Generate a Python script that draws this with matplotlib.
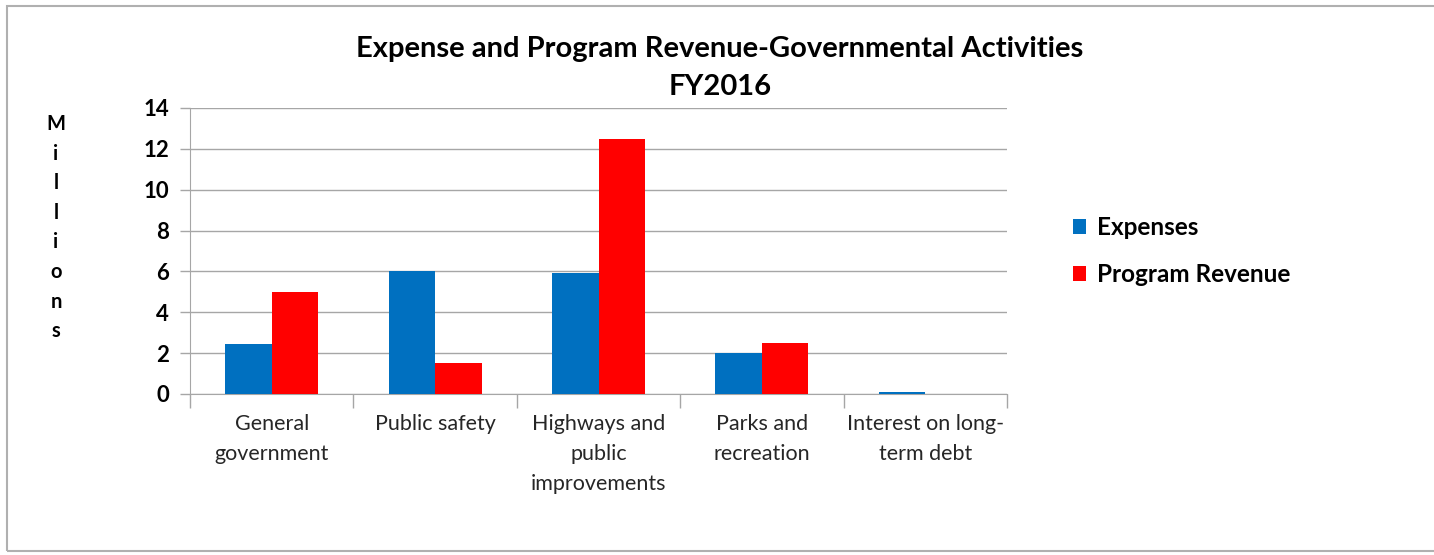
import matplotlib
matplotlib.use("Agg")
import matplotlib.pyplot as plt
import numpy as np
from matplotlib.patches import Rectangle

categories = ["General\ngovernment", "Public safety", "Highways and\npublic\nimprovements",
              "Parks and\nrecreation", "Interest on long-\nterm debt"]
expenses = [2.45, 6.0, 5.9, 2.0, 0.12]
program_revenue = [5.0, 1.5, 12.5, 2.5, 0.0]
yticks = [0, 2, 4, 6, 8, 10, 12, 14]

W, H = 1434, 555
fig = plt.figure(figsize=(W/100, H/100), dpi=100)
plt.rcParams['font.family'] = ['Lato', 'DejaVu Sans']

# outer frame
fig.patches.append(Rectangle((7/W, 1-551/H), (W+10-7)/W, (551-6)/H, transform=fig.transFigure,
                             fill=False, edgecolor='#b0b0b0', linewidth=1.5))

x0, x1, y0, y1 = 190, 1007, 108, 394
ax = fig.add_axes([x0/W, 1-y1/H, (x1-x0)/W, (y1-y0)/H])

x = np.arange(len(categories))
bw = 0.285
ax.bar(x - bw/2, expenses, bw, color='#0070C0', label='Expenses', zorder=3)
ax.bar(x + bw/2, program_revenue, bw, color='#FF0000', label='Program Revenue', zorder=3)

ax.set_xlim(-0.5, len(categories) - 0.5)
ax.set_ylim(0, 14)
ax.set_yticks(yticks)
ax.set_yticklabels([str(t) for t in yticks], fontsize=16, fontweight='bold')
ax.yaxis.grid(True, color='#a6a6a6', linewidth=1.0, zorder=0)
for s in ['top', 'right']:
    ax.spines[s].set_visible(False)
ax.spines['left'].set_color('#a6a6a6')
ax.spines['bottom'].set_color('#a6a6a6')
ax.tick_params(axis='y', length=7, color='#a6a6a6', width=1, pad=8)

ax.set_xticks(np.arange(-0.5, len(categories), 1.0))
ax.set_xticklabels([])
ax.tick_params(axis='x', length=10, color='#a6a6a6', width=1)
for i, c in enumerate(categories):
    ax.text(i, -1.0, c, ha='center', va='top', fontsize=15.5, color='#262626',
            linespacing=1.6, transform=ax.transData)

fig.text(720/W, 1-68/H, "Expense and Program Revenue-Governmental Activities\nFY2016",
         ha='center', va='center', fontsize=21, fontweight='bold', linespacing=1.55)

for k, ch in enumerate("Millions"):
    fig.text(56/W, 1-(124 + k*29.6)/H, ch, ha='center', va='center', fontsize=14.5,
             fontweight='bold')

leg = fig.legend(loc='upper left', bbox_to_anchor=(1051/W, 1-194/H), frameon=False,
                 prop={'size': 17.5, 'weight': 'bold'}, handlelength=0.55, handleheight=0.55,
                 handletextpad=0.45, labelspacing=1.0)

fig.savefig("out.png", dpi=100)
